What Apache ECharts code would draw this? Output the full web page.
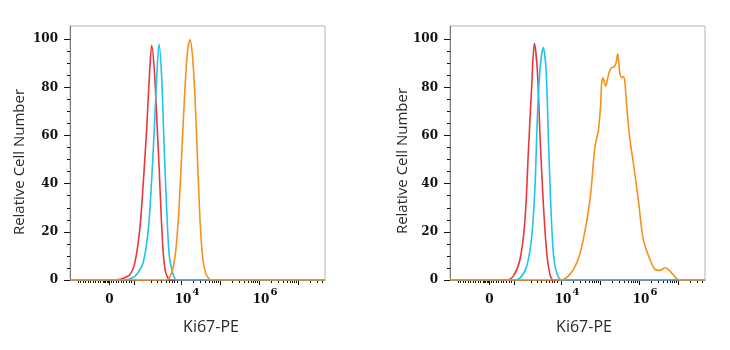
<!DOCTYPE html>
<html>
<head>
<meta charset="utf-8">
<script src="https://cdn.jsdelivr.net/npm/echarts@6/dist/echarts.min.js"></script>
<style>
html,body{margin:0;padding:0;background:#fff;}
#chart{width:730px;height:350px;}
</style>
</head>
<body>
<div id="chart"></div>
<script>
// x values are in display units of the biexponential axis (decades: 4 = 10^4, 6 = 10^6, 2.15 = 0)
// Left panel
const leftRed = [[1.141,0],[2.295,0],[2.474,0.5],[2.679,2.3],[2.808,7.5],[2.936,22],[3.026,42],[3.108,63],[3.174,84],[3.236,97.5],[3.308,86],[3.372,65],[3.431,45],[3.487,24],[3.538,10],[3.590,3.5],[3.667,0.5],[3.731,0],[7.679,0]];
const leftCyan = [[1.141,0],[2.551,0],[2.731,0.8],[2.859,2.5],[3.021,7.5],[3.149,21],[3.236,42],[3.303,63],[3.364,84],[3.423,98],[3.492,84],[3.551,57],[3.621,29],[3.687,10],[3.774,3],[3.877,0],[7.679,0]];
const leftOrange = [[1.141,0],[3.603,0],[3.705,1.5],[3.782,5],[3.859,13],[3.936,30],[4.013,55],[4.090,80],[4.154,95],[4.218,99.8],[4.282,93],[4.346,76],[4.410,50],[4.474,25],[4.538,10],[4.615,3],[4.705,0.5],[4.782,0],[7.679,0]];
// Right panel
const rightRed = [[1.141,0],[2.595,0],[2.764,1.6],[2.936,8.5],[3.064,25],[3.149,52.8],[3.236,80.5],[3.303,98.3],[3.379,87.5],[3.449,59.7],[3.533,32],[3.621,11.3],[3.705,2.3],[3.790,0],[7.679,0]];
const rightCyan = [[1.141,0],[2.764,0],[2.936,0.8],[3.108,5.7],[3.236,18],[3.321,39],[3.379,66.7],[3.449,87.5],[3.533,96.5],[3.603,87.5],[3.662,59.7],[3.723,32],[3.790,11.4],[3.877,3],[4.005,0],[7.679,0]];
const rightOrange = [[1.141,0],[3.962,0],[4.174,1.6],[4.390,7.1],[4.559,16.8],[4.731,33.4],[4.859,55.6],[4.944,62],[5.0,72],[5.031,82],[5.064,84],[5.133,80.5],[5.2,85],[5.269,88],[5.346,88.5],[5.397,90],[5.441,94],[5.474,89],[5.5,85.4],[5.551,84],[5.590,84.5],[5.628,81.7],[5.667,73],[5.718,64],[5.756,58],[5.841,48.7],[5.969,33.4],[6.097,16.8],[6.269,8.5],[6.397,4.4],[6.526,4.0],[6.654,5.1],[6.782,3.7],[6.954,0.5],[7.038,0],[7.679,0]];

// axis extents & ticks
const xMin = 1.141, xMax = 7.679;
const yMin = 0, yMax = 105.5;
const xMajorTicks = [2.15, 2.795, 4, 5, 6, 7];
const xMinorTicks = [1.346,1.410,1.474,1.538,1.603,1.667,1.731,1.795,1.859,1.923,1.987,2.021,2.054,2.087,2.121,2.187,2.251,2.321,2.390,2.449,2.508,2.577,2.662,2.723,
  3.231,3.372,3.492,3.603,3.687,3.756,3.821,3.897,
  4.301,4.477,4.602,4.699,4.778,4.845,4.903,4.954,
  5.301,5.477,5.602,5.699,5.778,5.845,5.903,5.954,
  6.301,6.477,6.602,6.699,6.778,6.845,6.903,6.954,
  7.301,7.477,7.602];
const xLabelValues = [2.15, 4, 6];
const xLabelBase = ['0', '10', '10'];
const xLabelExp = ['', '4', '6'];
const yMajorTicks = [0, 20, 40, 60, 80, 100];
const yMinorTicks = [5,10,15,25,30,35,45,50,55,65,70,75,85,90,95];

const colors = {red: '#e8383d', cyan: '#22c3ef', orange: '#f7911e'};
const serif = '"DejaVu Serif", "Liberation Serif", serif';
const sans = '"Open Sans", "Noto Sans", sans-serif';

const chart = echarts.init(document.getElementById('chart'), null, {renderer: 'canvas'});

const grids = [
  {left: 70, top: 26, width: 255, height: 254, show: true, borderColor: '#b5b5b5', borderWidth: 1},
  {left: 450, top: 26, width: 255, height: 254, show: true, borderColor: '#b5b5b5', borderWidth: 1}
];

function xLabelFmt(v) {
  let best = 0, bd = 1e9;
  xLabelValues.forEach((lv, i) => { const d = Math.abs(lv - v); if (d < bd) { bd = d; best = i; } });
  if (xLabelExp[best] === '') return '{z|' + xLabelBase[best] + '}';
  return '{b|' + xLabelBase[best] + '}{s|' + xLabelExp[best] + '}';
}

const xAxes = [], yAxes = [];
[0, 1].forEach(g => {
  xAxes.push({
    type: 'value', gridIndex: g, min: xMin, max: xMax, position: 'bottom',
    axisLine: {show: true, onZero: false, lineStyle: {color: '#7a7a7a', width: 1}},
    axisTick: {show: true, customValues: xMajorTicks, length: 5, lineStyle: {color: '#111', width: 1}},
    axisLabel: {show: true, customValues: xLabelValues, formatter: xLabelFmt, margin: 6,
      rich: {
        z: {fontFamily: serif, fontSize: 12, color: '#111', fontWeight: 'bold', padding: [8, 0, 0, 0]},
        b: {fontFamily: serif, fontSize: 12, color: '#111', fontWeight: 'bold', padding: [8, 0, 0, 11]},
        s: {fontFamily: serif, fontSize: 10, color: '#111', fontWeight: 'bold', padding: [0, 0, 8, 1]}
      }},
    splitLine: {show: false}
  });
  xAxes.push({
    type: 'value', gridIndex: g, min: xMin, max: xMax, position: 'bottom', offset: 0,
    axisLine: {show: false, onZero: false},
    axisTick: {show: true, customValues: xMinorTicks, length: 3, lineStyle: {color: '#111', width: 1}},
    axisLabel: {show: false},
    splitLine: {show: false}
  });
  yAxes.push({
    type: 'value', gridIndex: g, min: yMin, max: yMax, position: 'left',
    axisLine: {show: true, onZero: false, lineStyle: {color: '#7a7a7a', width: 1}},
    axisTick: {show: true, customValues: yMajorTicks, length: 6, lineStyle: {color: '#111', width: 1}},
    axisLabel: {show: true, customValues: yMajorTicks, margin: 12, fontFamily: serif, fontSize: 12, fontWeight: 'bold', color: '#111'},
    splitLine: {show: false}
  });
  yAxes.push({
    type: 'value', gridIndex: g, min: yMin, max: yMax, position: 'left', offset: 0,
    axisLine: {show: false, onZero: false},
    axisTick: {show: true, customValues: yMinorTicks, length: 3, lineStyle: {color: '#111', width: 1}},
    axisLabel: {show: false},
    splitLine: {show: false}
  });
});

function lineSeries(data, color, g, z) {
  return {
    type: 'line', data: data, xAxisIndex: g * 2, yAxisIndex: g * 2,
    showSymbol: false, symbol: 'none', smooth: 0.3, z: z,
    lineStyle: {color: color, width: 1.6}, animation: false
  };
}

const option = {
  animation: false,
  backgroundColor: '#ffffff',
  grid: grids,
  xAxis: xAxes,
  yAxis: yAxes,
  series: [
    lineSeries(leftRed, colors.red, 0, 2),
    lineSeries(leftCyan, colors.cyan, 0, 3),
    lineSeries(leftOrange, colors.orange, 0, 4),
    lineSeries(rightRed, colors.red, 1, 2),
    lineSeries(rightCyan, colors.cyan, 1, 3),
    lineSeries(rightOrange, colors.orange, 1, 4)
  ],
  graphic: [
    {type: 'text', x: 20, y: 162, rotation: Math.PI / 2, style: {text: 'Relative Cell Number', font: '15px ' + sans, fill: '#2a2a2a', align: 'center', verticalAlign: 'middle'}},
    {type: 'text', x: 403, y: 161, rotation: Math.PI / 2, style: {text: 'Relative Cell Number', font: '15px ' + sans, fill: '#2a2a2a', align: 'center', verticalAlign: 'middle'}},
    {type: 'text', x: 211, y: 327, style: {text: 'Ki67-PE', font: '16px ' + sans, fill: '#2a2a2a', align: 'center', verticalAlign: 'middle'}},
    {type: 'text', x: 584, y: 327, style: {text: 'Ki67-PE', font: '16px ' + sans, fill: '#2a2a2a', align: 'center', verticalAlign: 'middle'}}
  ]
};
chart.setOption(option);
</script>
</body>
</html>
